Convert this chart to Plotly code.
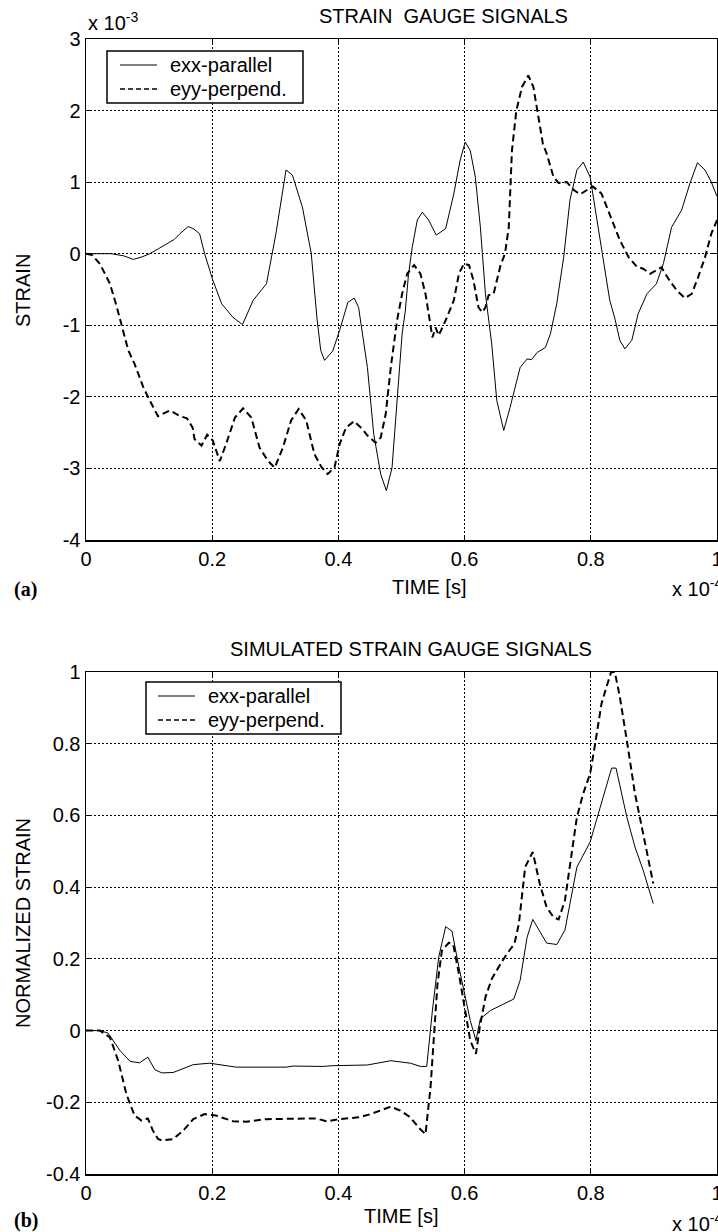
import plotly.graph_objects as go

# ---------------- data (panel a: measured, x in 1e-4 s, strain in 1e-3) ----------------
t_a_exx = [0, 0.02, 0.04, 0.06, 0.075, 0.09, 0.101, 0.115, 0.128, 0.14,
           0.149, 0.162, 0.17, 0.18, 0.188, 0.201, 0.215, 0.233, 0.248, 0.265,
           0.286, 0.301, 0.317, 0.327, 0.343, 0.357, 0.366, 0.372, 0.378, 0.391,
           0.402, 0.415, 0.425, 0.432, 0.446, 0.456, 0.467, 0.476, 0.485, 0.493,
           0.501, 0.506, 0.511, 0.517, 0.525, 0.533, 0.543, 0.555, 0.57, 0.583,
           0.593, 0.601, 0.609, 0.617, 0.625, 0.633, 0.643, 0.651, 0.662, 0.672,
           0.688, 0.699, 0.706, 0.715, 0.728, 0.736, 0.746, 0.757, 0.767, 0.778,
           0.788, 0.799, 0.809, 0.82, 0.83, 0.838, 0.846, 0.854, 0.865, 0.875,
           0.889, 0.904, 0.915, 0.928, 0.944, 0.957, 0.969, 0.981, 0.991, 1.0]
exx_a = [0, 0.0, 0.0, -0.03, -0.08, -0.04, 0.0, 0.07, 0.14, 0.2,
         0.28, 0.38, 0.35, 0.28, 0.0, -0.37, -0.70, -0.89, -0.99, -0.65,
         -0.42, 0.28, 1.17, 1.1, 0.65, 0.0, -0.9, -1.35, -1.49, -1.36,
         -1.07, -0.68, -0.62, -0.75, -1.59, -2.52, -3.08, -3.31, -2.99, -2.05,
         -1.12, -0.8, -0.3, 0.09, 0.47, 0.58, 0.47, 0.26, 0.35, 0.84,
         1.31, 1.56, 1.44, 1.07, 0.37, -0.56, -1.26, -2.05, -2.47, -2.15,
         -1.59, -1.47, -1.48, -1.38, -1.31, -1.12, -0.7, -0.05, 0.75, 1.17,
         1.28, 1.07, 0.51, -0.09, -0.65, -0.9, -1.21, -1.33, -1.21, -0.84,
         -0.56, -0.42, -0.14, 0.37, 0.61, 0.98, 1.27, 1.17, 1.0, 0.8]

t_a_eyy = [0, 0.01, 0.022, 0.038, 0.049, 0.056, 0.067, 0.077, 0.091, 0.101,
           0.114, 0.133, 0.149, 0.16, 0.169, 0.172, 0.183, 0.192, 0.201, 0.212,
           0.222, 0.236, 0.249, 0.262, 0.275, 0.288, 0.299, 0.312, 0.325, 0.337,
           0.349, 0.362, 0.373, 0.383, 0.394, 0.402, 0.412, 0.425, 0.438, 0.446,
           0.459, 0.467, 0.475, 0.483, 0.493, 0.501, 0.509, 0.52, 0.53, 0.538,
           0.543, 0.549, 0.554, 0.559, 0.57, 0.583, 0.591, 0.599, 0.607, 0.614,
           0.622, 0.628, 0.633, 0.638, 0.646, 0.657, 0.664, 0.67, 0.675, 0.682,
           0.691, 0.701, 0.709, 0.717, 0.724, 0.73, 0.741, 0.749, 0.762, 0.773,
           0.783, 0.794, 0.803, 0.817, 0.83, 0.846, 0.86, 0.873, 0.883, 0.894,
           0.904, 0.912, 0.923, 0.936, 0.949, 0.96, 0.97, 0.981, 0.991, 1.0]
eyy_a = [0, -0.02, -0.14, -0.42, -0.75, -1.0, -1.35, -1.54, -1.87, -2.05,
         -2.27, -2.19, -2.27, -2.3, -2.43, -2.59, -2.68, -2.53, -2.61, -2.90,
         -2.66, -2.29, -2.16, -2.29, -2.71, -2.89, -2.99, -2.71, -2.33, -2.17,
         -2.33, -2.80, -2.98, -3.08, -2.98, -2.66, -2.43, -2.34, -2.45, -2.54,
         -2.64, -2.57, -2.24, -1.59, -0.93, -0.56, -0.28, -0.16, -0.28, -0.56,
         -0.85, -1.17, -1.03, -1.14, -0.93, -0.65, -0.28, -0.14, -0.16, -0.37,
         -0.75, -0.82, -0.75, -0.58, -0.56, -0.16, 0.0, 0.37, 1.44, 2.0,
         2.33, 2.49, 2.33, 1.91, 1.54, 1.40, 1.07, 0.99, 1.0, 0.89,
         0.83, 0.89, 0.94, 0.84, 0.56, 0.19, -0.05, -0.18, -0.21, -0.28,
         -0.23, -0.19, -0.35, -0.51, -0.62, -0.56, -0.33, -0.05, 0.28, 0.47]

# ---------------- data (panel b: simulated, normalized) ----------------
t_b_exx = [0, 0.022, 0.035, 0.054, 0.07, 0.085, 0.098, 0.109, 0.12, 0.138,
           0.17, 0.196, 0.238, 0.317, 0.328, 0.375, 0.39, 0.43, 0.446, 0.483,
           0.514, 0.53, 0.54, 0.549, 0.559, 0.57, 0.58, 0.591, 0.599, 0.609,
           0.618, 0.625, 0.641, 0.662, 0.678, 0.688, 0.699, 0.708, 0.719, 0.73,
           0.746, 0.759, 0.778, 0.799, 0.809, 0.823, 0.833, 0.84, 0.857, 0.87,
           0.883, 0.899]
exx_b = [0, 0, -0.007, -0.056, -0.086, -0.09, -0.074, -0.109, -0.118, -0.117,
         -0.095, -0.091, -0.102, -0.102, -0.099, -0.1, -0.098, -0.097, -0.096, -0.084,
         -0.091, -0.1, -0.1, 0.056, 0.205, 0.29, 0.277, 0.177, 0.112, 0.028,
         -0.028, 0.033, 0.056, 0.075, 0.088, 0.14, 0.26, 0.31, 0.275, 0.244,
         0.24, 0.28, 0.456, 0.526, 0.587, 0.67, 0.732, 0.732, 0.596, 0.512,
         0.447, 0.354]

t_b_eyy = [0, 0.022, 0.038, 0.051, 0.064, 0.077, 0.088, 0.098, 0.106, 0.114,
           0.12, 0.138, 0.154, 0.17, 0.188, 0.206, 0.233, 0.254, 0.286, 0.338,
           0.365, 0.381, 0.402, 0.432, 0.451, 0.483, 0.498, 0.514, 0.528, 0.538,
           0.546, 0.557, 0.564, 0.575, 0.582, 0.591, 0.599, 0.609, 0.618, 0.624,
           0.633, 0.643, 0.657, 0.667, 0.679, 0.686, 0.696, 0.708, 0.719, 0.73,
           0.741, 0.749, 0.759, 0.767, 0.778, 0.788, 0.799, 0.807, 0.817, 0.825,
           0.832, 0.838, 0.846, 0.857, 0.87, 0.883, 0.899]
eyy_b = [0, 0, -0.019, -0.084, -0.177, -0.237, -0.251, -0.245, -0.279, -0.302,
         -0.306, -0.303, -0.279, -0.247, -0.233, -0.237, -0.253, -0.254, -0.247, -0.245,
         -0.245, -0.253, -0.247, -0.242, -0.233, -0.212, -0.223, -0.242, -0.272, -0.289,
         -0.158, 0.13, 0.223, 0.245, 0.24, 0.158, 0.075, -0.028, -0.065, 0.009,
         0.093, 0.144, 0.186, 0.214, 0.242, 0.298, 0.456, 0.498, 0.41, 0.344,
         0.316, 0.31, 0.363, 0.465, 0.596, 0.661, 0.717, 0.801, 0.912, 0.959,
         0.999, 1.0, 0.931, 0.81, 0.661, 0.549, 0.41]

# ---------------- tick labels ----------------
x_ticks = [0, 0.2, 0.4, 0.6, 0.8, 1]
x_ticktext = ["0", "0.2", "0.4", "0.6", "0.8", "1"]
ya_ticks = [-4, -3, -2, -1, 0, 1, 2, 3]
ya_ticktext = ["-4", "-3", "-2", "-1", "0", "1", "2", "3"]
yb_ticks = [-0.4, -0.2, 0, 0.2, 0.4, 0.6, 0.8, 1]
yb_ticktext = ["-0.4", "-0.2", "0", "0.2", "0.4", "0.6", "0.8", "1"]

names = ["exx-parallel", "eyy-perpend."]

# ---------------- layout geometry (pixels) ----------------
W, H = 718, 1232
ML, MR, MT, MB = 86, 1, 39, 58
PW = W - ML - MR
PH = H - MT - MB


def P(px, py):
    return (px - ML) / PW, (H - MB - py) / PH


FONT = "Liberation Sans, Arial, Helvetica, sans-serif"
SERIF = "Liberation Serif, Times New Roman, serif"
fs = 20

fig = go.Figure()
solid = dict(color="black", width=1)
dashed = dict(color="black", width=2, dash="7px,4px")

fig.add_trace(go.Scatter(x=t_a_exx, y=exx_a, mode="lines", line=solid, name=names[0],
                         xaxis="x", yaxis="y", showlegend=False))
fig.add_trace(go.Scatter(x=t_a_eyy, y=eyy_a, mode="lines", line=dashed, name=names[1],
                         xaxis="x", yaxis="y", showlegend=False))
fig.add_trace(go.Scatter(x=t_b_exx, y=exx_b, mode="lines", line=solid, name=names[0],
                         xaxis="x2", yaxis="y2", showlegend=False))
fig.add_trace(go.Scatter(x=t_b_eyy, y=eyy_b, mode="lines", line=dashed, name=names[1],
                         xaxis="x2", yaxis="y2", showlegend=False))

ax = dict(showline=True, linecolor="black", linewidth=1.5, mirror="ticks",
          ticks="inside", ticklen=5, tickcolor="black", tickwidth=1,
          showgrid=True, gridcolor="black", gridwidth=1, griddash="2px,2px",
          zeroline=False, tickfont=dict(family=FONT, size=fs, color="black"),
          ticklabeloverflow="allow")

topa = P(0, 540)[1]
topb = P(0, 672)[1]

fig.update_layout(
    width=W, height=H,
    margin=dict(l=ML, r=MR, t=MT, b=MB, autoexpand=False),
    paper_bgcolor="white", plot_bgcolor="white",
    font=dict(family=FONT, size=fs, color="black"),
    xaxis=dict(ax, domain=[0, 1], anchor="y", range=[0, 1],
               tickvals=x_ticks, ticktext=x_ticktext),
    yaxis=dict(ax, domain=[topa, 1], anchor="x", range=[-4, 3],
               tickvals=ya_ticks, ticktext=ya_ticktext),
    xaxis2=dict(ax, domain=[0, 1], anchor="y2", range=[0, 1],
                tickvals=x_ticks, ticktext=x_ticktext),
    yaxis2=dict(ax, domain=[0, topb], anchor="x2", range=[-0.4, 1],
                tickvals=yb_ticks, ticktext=yb_ticktext),
    showlegend=False,
)


def ann(text, px, py, xanchor="center", yanchor="middle", angle=0, size=fs, family=FONT):
    x, y = P(px, py)
    fig.add_annotation(text=text, x=x, y=y, xref="paper", yref="paper",
                       xanchor=xanchor, yanchor=yanchor, textangle=angle,
                       showarrow=False, font=dict(family=family, size=size, color="black"))


def legend_box(x0, y0, x1, y1, lx0, lx1, tx, rows):
    a0, b0 = P(x0, y0)
    a1, b1 = P(x1, y1)
    fig.add_shape(type="rect", xref="paper", yref="paper", x0=a0, y0=b1, x1=a1, y1=b0,
                  line=dict(color="black", width=1.5), fillcolor="white", layer="above")
    styles = [dict(color="black", width=1), dict(color="black", width=1.5, dash="5px,3px")]
    for (py, nm, st) in zip(rows, names, styles):
        u0, v = P(lx0, py)
        u1, _ = P(lx1, py)
        fig.add_shape(type="line", xref="paper", yref="paper", x0=u0, y0=v, x1=u1, y1=v,
                      line=st, layer="above")
        ann(nm, tx, py, xanchor="left")


legend_box(107, 51, 303, 103, 120, 157, 168, [65, 89])
legend_box(146, 682, 341, 734, 158, 195, 206, [696, 720])

ann("STRAIN  GAUGE SIGNALS", 443, 16)
ann("SIMULATED STRAIN GAUGE SIGNALS", 411, 649)
ann("STRAIN", 23, 291, angle=-90)
ann("NORMALIZED STRAIN", 23, 923, angle=-90)
ann("TIME [s]", 429, 587)
ann("TIME [s]", 401, 1216)
ann("x 10<sup>-3</sup>", 86, 36, xanchor="left", yanchor="bottom")
ann("x 10<sup>-4</sup>", 670, 587, xanchor="left")
ann("x 10<sup>-4</sup>", 670, 1222, xanchor="left")
ann("<b>(a)</b>", 12, 589, xanchor="left", family=SERIF)
ann("<b>(b)</b>", 12, 1220, xanchor="left", family=SERIF)

fig.write_html("out.html",
               config={"displayModeBar": False, "staticPlot": True},
               post_script="document.body.style.margin='0px';"
                           "document.body.style.overflow='hidden';")
